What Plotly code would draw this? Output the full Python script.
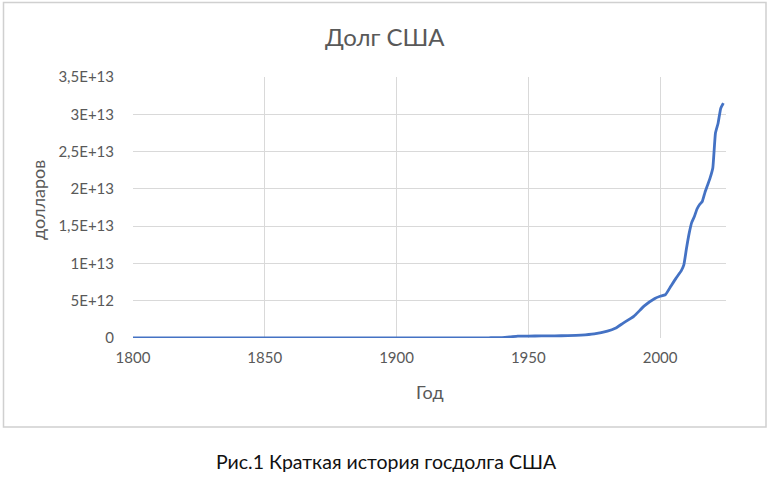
import plotly.graph_objects as go

years = [1800, 1810, 1820, 1830, 1835, 1840, 1850, 1860, 1866, 1880, 1890, 1900,
         1910, 1916, 1919, 1930, 1935, 1940, 1943, 1946, 1950, 1955, 1960, 1965,
         1970, 1975, 1980, 1983, 1986, 1990, 1994, 1998, 2000, 2002, 2004, 2006,
         2008, 2009, 2010, 2011, 2012, 2013, 2014, 2015, 2016, 2017, 2018, 2019,
         2020, 2021, 2022, 2023, 2024]
debt = [8.3e7, 5.3e7, 9.1e7, 4.9e7, 3.4e4, 3.6e6, 6.3e7, 6.5e7, 2.77e9, 2.09e9, 1.12e9, 2.14e9,
        2.65e9, 3.6e9, 2.75e10, 1.62e10, 2.87e10, 5.1e10, 1.4e11, 2.6e11, 2.6e11, 2.8e11, 2.9e11, 3.2e11,
        3.8e11, 5.4e11, 9.1e11, 1.3e12, 2.0e12, 2.9e12, 4.3e12, 5.3e12, 5.6e12, 5.8e12, 6.9e12, 8.0e12,
        9.0e12, 9.8e12, 12.0e12, 14.0e12, 15.5e12, 16.3e12, 17.3e12, 17.9e12, 18.3e12, 19.5e12, 20.5e12, 21.5e12,
        22.8e12, 27.5e12, 28.8e12, 30.8e12, 31.5e12]

y_tickvals = [0, 5e12, 1e13, 1.5e13, 2e13, 2.5e13, 3e13, 3.5e13]
y_ticktext = ["0", "5E+12", "1E+13", "1,5E+13", "2E+13", "2,5E+13", "3E+13", "3,5E+13"]
x_tickvals = [1800, 1850, 1900, 1950, 2000]
x_ticktext = ["1800", "1850", "1900", "1950", "2000"]

title_text = "Долг США"
x_title = "Год"
y_title = "долларов"
caption = "Рис.1 Краткая история госдолга США"

FONT = "Lato"
GREY = "#595959"
GRID = "#D9D9D9"

fig = go.Figure()
fig.add_trace(go.Scatter(x=years, y=debt, mode="lines",
                         line=dict(color="#4472C4", width=2.8, shape="spline", smoothing=0.4),
                         showlegend=False, hoverinfo="x+y"))

W, H = 769, 479
L, R, T, B = 133, 43, 77, 141
pw = W - L - R
ph = H - T - B

def px(x):
    return (x - L) / pw

def py(y):
    return (H - B - y) / ph

fig.update_layout(
    width=W, height=H,
    margin=dict(l=L, r=R, t=T, b=B),
    paper_bgcolor="white", plot_bgcolor="white",
    font=dict(family=FONT, color=GREY, size=15),
    xaxis=dict(range=[1800, 2025], tickvals=x_tickvals, ticktext=x_ticktext,
               showgrid=True, gridcolor=GRID, gridwidth=1.3, zeroline=False,
               showline=False, ticks="", ticklabelstandoff=9,
               tickfont=dict(size=15, family=FONT, color=GREY)),
    yaxis=dict(range=[0, 3.5e13], tickvals=y_tickvals, ticktext=y_ticktext,
               showgrid=True, gridcolor=GRID, gridwidth=1.3, zeroline=False,
               showline=False, ticks="", ticklabelstandoff=18,
               tickfont=dict(size=15, family=FONT, color=GREY)),
    shapes=[
        dict(type="rect", xref="paper", yref="paper",
             x0=px(3.5), x1=px(766), y0=py(427), y1=py(2.5),
             line=dict(color="#D0D0D0", width=1.5), layer="below"),
    ],
    annotations=[
        dict(text=title_text, xref="paper", yref="paper", x=px(385), y=py(36),
             showarrow=False, xanchor="center", yanchor="middle",
             font=dict(family=FONT, size=24, color=GREY)),
        dict(text=y_title, xref="paper", yref="paper", x=px(38), y=py(200),
             showarrow=False, xanchor="center", yanchor="middle", textangle=-90,
             font=dict(family=FONT, size=18, color=GREY)),
        dict(text=x_title, xref="paper", yref="paper", x=px(430), y=py(392),
             showarrow=False, xanchor="center", yanchor="middle",
             font=dict(family=FONT, size=18, color=GREY)),
        dict(text=caption, xref="paper", yref="paper", x=px(386), y=py(461),
             showarrow=False, xanchor="center", yanchor="middle",
             font=dict(family=FONT, size=19.5, color="#111111")),
    ],
)

fig.write_html("out.html", config={"displayModeBar": False},
               post_script="document.body.style.margin='0';")
